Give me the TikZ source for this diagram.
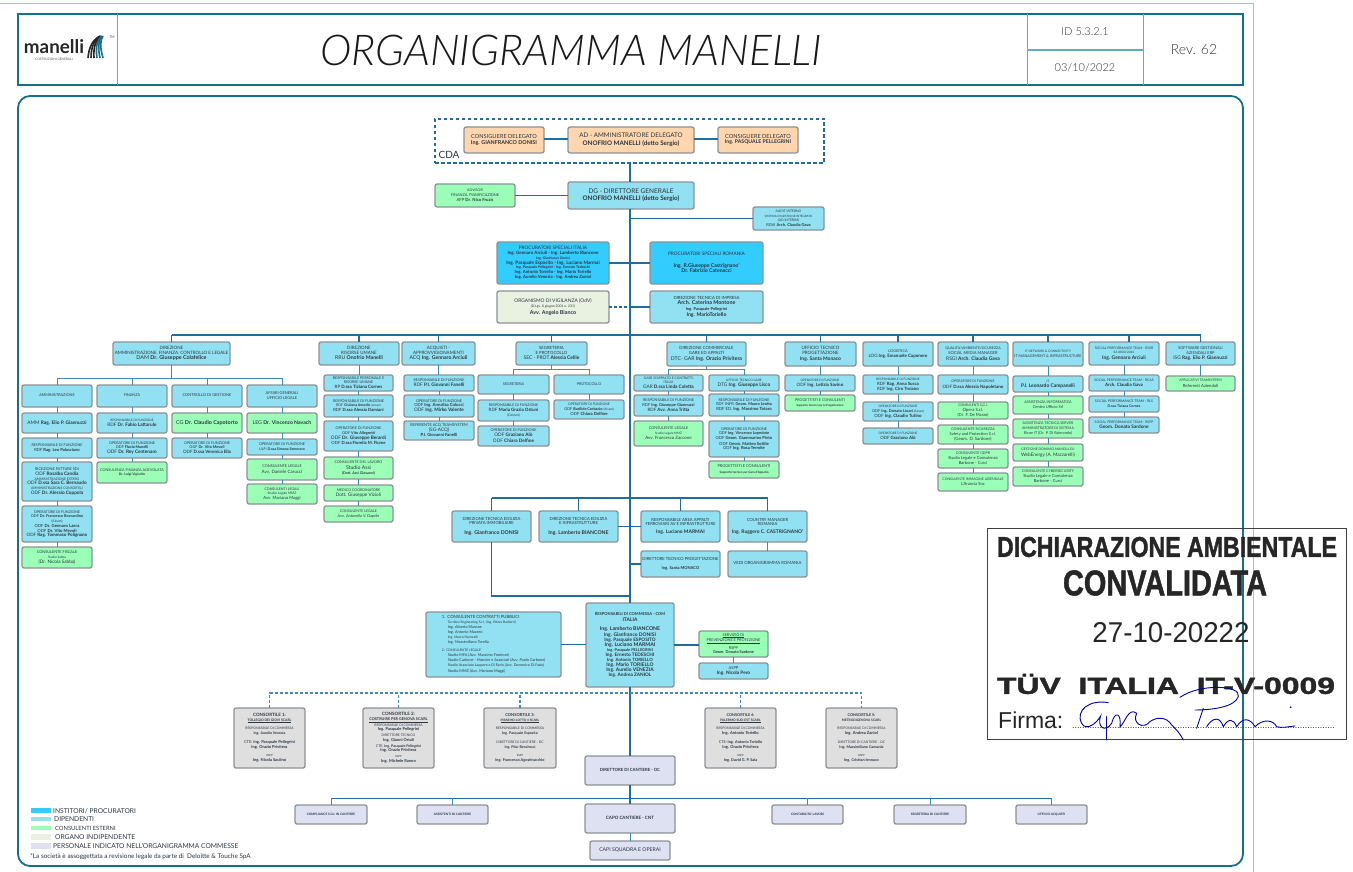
\documentclass[tikz,border=0pt]{standalone}
\usepackage{fontspec}
\usepackage{graphicx}
\setmainfont{Lato}
\newfontfamily\lightf{Lato Light}
\newfontfamily\stampf[BoldFeatures={FakeBold=1.5}]{Liberation Sans}
\usetikzlibrary{calc}
\definecolor{dteal}{HTML}{14708C}
\definecolor{lteal}{HTML}{8FCBD3}
\definecolor{mteal}{HTML}{5FAEBE}
\definecolor{cmain}{HTML}{1F6E9E}
\definecolor{csub}{HTML}{3F8DB5}
\definecolor{cdip}{HTML}{92E1F2}
\definecolor{cinst}{HTML}{33CCFF}
\definecolor{cext}{HTML}{9CFFB8}
\definecolor{cind}{HTML}{E9F2E0}
\definecolor{ccom}{HTML}{DDE1F1}
\definecolor{ccons}{HTML}{DFDFDF}
\definecolor{cora}{HTML}{FFD6AE}
\definecolor{cline}{HTML}{8C9296}
\definecolor{ctext}{HTML}{2B3640}
\newcommand{\sz}[1]{\pgfmathsetmacro\fsz{#1*1.12}\fontsize{\fsz}{\fsz}\selectfont}
\newcommand{\bb}[1]{\textbf{#1}}
\newcommand{\bx}[8][]{%
  \pgfmathsetmacro\bxw{#6-#4}\pgfmathsetmacro\bxh{#7-#5}%
  \node[bbox,#3,minimum width=\bxw pt,minimum height=\bxh pt,#1] (#2) at ({(#4+#6)/2},{(#5+#7)/2})
  {\smash{\makebox[0pt]{\raisebox{-1.3pt}{\begin{tabular}{@{}c@{}}#8\end{tabular}}}}};}
\newcommand{\chain}[1]{\foreach \p/\q in {#1}{\draw[cn] (\p.south) -- (\p.south |- \q.north);}}
\tikzset{
  bbox/.style={draw=cline,line width=1.3pt,rounded corners=2pt,inner sep=0pt,outer sep=0pt,text=ctext,
    font=\fontsize{3.8}{4.7}\selectfont},
  dip/.style={fill=cdip},
  inst/.style={fill=cinst},
  ext/.style={fill=cext},
  ind/.style={fill=cind},
  com/.style={fill=ccom},
  cons/.style={fill=ccons},
  ora/.style={fill=cora},
  cmn/.style={draw=cmain,line width=1.5pt},
  cn/.style={draw=csub,line width=1pt},
  cdsh/.style={draw=csub,line width=1.2pt,dash pattern=on 3pt off 2pt},
  sig/.style={draw=blue!65!black,line width=.9pt,line cap=round},
  leg/.style={inner sep=0pt,anchor=west,text=ctext,font=\fontsize{6.7}{7}\selectfont},
  swatch/.style={inner sep=0pt,minimum width=20pt},
  stamptxt/.style={inner sep=0pt,text=black!85,font=\stampf},
}
\begin{document}
\begin{tikzpicture}[x=1pt,y=-1pt]
\useasboundingbox (0,0) rectangle (1353,872);
\fill[white] (0,0) rectangle (1353,872);
% outer light frame
\draw[lteal,line width=1pt] (0,4) -- (1253,4) -- (1253,872);
% header
\draw[dteal,line width=2pt] (18,14) rectangle (1243,85);
\draw[mteal,line width=.7pt] (117,14) -- (117,85) (1027,14) -- (1027,85) (1143,14) -- (1143,85);
\draw[mteal,line width=1.2pt] (1027,50) -- (1143,50);
\draw[dteal,line width=1.8pt,rounded corners=12pt] (18,96) rectangle (1243,866);
% logo
\node[inner sep=0pt,font=\fontsize{18.8}{20}\selectfont\bfseries,text=black!85] (logo) at (54,47) {manelli};
\node[inner sep=0pt,font=\fontsize{3.2}{4}\selectfont,text=black!70] (logosub) at (54,59) {COSTRUZIONI GENERALI};
\node[inner sep=0pt,font=\fontsize{3.5}{4}\selectfont,text=black!70] (logotm) at (112,37) {TM};
\foreach \i/\c in {0/black!85,3/black!85,6/black!85,9/dteal,12/dteal,15/dteal}{
  \draw[\c,line width=1.6pt] ({88+\i},58) .. controls ({89+\i*.7},46) and ({93+\i*.5},40) .. ({100+\i*.2},36);}
\node[inner sep=0pt,font=\fontsize{42.5}{46}\selectfont\lightf\itshape,text=black!90] (title) at (571,50) {ORGANIGRAMMA MANELLI};
\node[inner sep=0pt,font=\fontsize{11}{13}\selectfont\lightf,text=black!80] (idt) at (1085,32) {ID 5.3.2.1};
\node[inner sep=0pt,font=\fontsize{11}{13}\selectfont\lightf,text=black!80] (dat) at (1085,68) {03/10/2022};
\node[inner sep=0pt,font=\fontsize{14}{16}\selectfont\lightf,text=black!80] (rev) at (1194,50) {Rev. 62};
% CDA
\node[draw=cmain,line width=1.4pt,dash pattern=on 3.5pt off 2.5pt,inner sep=0pt,minimum width=389pt,minimum height=44pt] (cda) at (629.5,141) {};
\node[inner sep=0pt,font=\fontsize{10}{11}\selectfont,text=ctext] (cdal) at (449,155) {CDA};
\bx{cdl}{ora}{464}{127}{544}{153}{\sz{5}CONSIGLIERE DELEGATO\\\sz{4.8}\bb{Ing. GIANFRANCO DONISI}}
\bx{ad}{ora}{568}{127}{694}{153}{\sz{5.6}AD - AMMINISTRATORE DELEGATO\\[1pt]\sz{5.6}\bb{ONOFRIO MANELLI (detto Sergio)}}
\bx{cdr}{ora}{718}{127}{798}{153}{\sz{5}CONSIGLIERE DELEGATO\\\sz{4.6}\bb{Ing. PASQUALE PELLEGRINI}}
\bx{dg}{dip}{568}{182}{694}{209}{\sz{5.8}DG - DIRETTORE GENERALE\\[1pt]\sz{5.6}\bb{ONOFRIO MANELLI (detto Sergio)}}
\bx{adv}{ext}{435}{184}{515}{207}{\sz{3.2}ADVISOR\\\sz{3.4}FINANZA, PIANIFICAZIONE\\\sz{3.8}AFP \bb{Dr. Nico Fruzis}}
\bx{aud}{dip}{753}{207}{824}{230}{\sz{3}AUDIT INTERNO\\\sz{2.6}SISTEMA DI GESTIONE INTEGRATO\\\sz{3}(AD INTERIM)\\\sz{3.6}RGVI \bb{Arch. Claudia Gava}}
\bx{pit}{inst}{497}{242}{609}{284}{\sz{4.2}PROCURATORI SPECIALI ITALIA\\\sz{4}\bb{Ing. Gennaro Arciuli - Ing. Lamberto Biancone}\\\sz{3}\bb{Ing. Gianfranco Donisi}\\\sz{4.2}\bb{Ing. Pasquale Esposito - Ing. Luciano Marmai}\\\sz{3.2}\bb{Ing. Pasquale Pellegrini - Ing. Ernesto Tedeschi}\\\sz{3.8}\bb{Ing. Antonio Toriello - Ing. Mario Toriello}\\\sz{3.8}\bb{Ing. Aurelio Venezia - Ing. Andrea Zaniol}}
\bx{pro}{inst}{650}{242}{763}{284}{\sz{4.2}PROCURATORI SPECIALI ROMANIA\\[6pt]\sz{4.6}\bb{Ing. R.Giuseppe Castrignano'}\\\sz{4.6}\bb{Dr. Fabrizio Catenacci}}
\bx{odv}{ind}{497}{291}{609}{323}{\sz{4.4}ORGANISMO DI VIGILANZA (OdV)\\[1pt]\sz{3}(D.Lgs. 8 giugno 2001 n. 231)\\[1pt]\sz{4.8}\bb{Avv. Angelo Bianco}}
\bx{dti}{dip}{650}{291}{763}{323}{\sz{3.8}DIREZIONE TECNICA DI IMPRESA\\\sz{4.8}\bb{Arch. Caterina Montone}\\[1pt]\sz{3.6}\bb{Ing. Pasquale Pellegrini}\\[1pt]\sz{4.6}\bb{Ing. MarioToriello}}
% direzioni
\bx{dam}{dip}{113}{342}{230}{365}{\sz{4}DIREZIONE\\\sz{4}AMMINISTRAZIONE, FINANZA, CONTROLLO E LEGALE\\\sz{4.8}DAM \bb{Dr. Giuseppe Colafelice}}
\bx{am}{dip}{22}{385}{92}{407}{\sz{3.4}AMMINISTRAZIONE}
\bx{fi}{dip}{97}{385}{167}{407}{\sz{3.4}FINANZA}
\bx{cg}{dip}{172}{385}{242}{407}{\sz{3.5}CONTROLLO DI GESTIONE}
\bx{af}{dip}{247}{385}{317}{407}{\sz{3.5}AFFARI GENERALI\\\sz{3.5}UFFICIO LEGALE}
\bx{am1}{dip}{22}{413}{92}{433}{\sz{4.3}AMM \bb{Rag. Elio P. Giannuzzi}}
\bx{am2}{dip}{22}{438}{92}{458}{\sz{3.3}RESPONSABILE DI FUNZIONE\\\sz{3.7}RDF \bb{Rag. Leo Palasciano}}
\bx{am3}{dip}{22}{462}{92}{501}{\sz{3.4}RICEZIONE FATTURE SDI\\\sz{4.2}ODF \bb{Rosalba Candia}\\\sz{3}AMMINISTRAZIONE ESTERO\\\sz{4.2}ODF \bb{D.ssa Sara C. Bernaudo}\\\sz{3}AMMINISTRAZIONE CONSORTILI\\\sz{4.2}ODF \bb{Dr. Alessio Coppola}}
\bx{am4}{dip}{22}{506}{92}{542}{\sz{3.3}OPERATORE DI FUNZIONE\\\sz{3.4}ODF \bb{Dr. Francesco Boccardino}\\\sz{3}(Alcam)\\\sz{3.8}ODF \bb{Dr. Gennaro Laera}\\\sz{3.8}ODF \bb{Dr. Vito Mevoli}\\\sz{4}ODF \bb{Rag. Tommaso Polignano}}
\bx{am5}{ext}{22}{547}{92}{568}{\sz{3.4}CONSULENTE FISCALE\\\sz{2.8}Studio Sabba\\[.5pt]\sz{4.2}(Dr. Nicola Sabba)}
\bx{fi1}{dip}{97}{413}{167}{433}{\sz{2.8}RESPONSABILE DI FUNZIONE\\\sz{4.2}RDF \bb{Dr. Fabio Lattarulo}}
\bx{fi2}{dip}{97}{438}{167}{458}{\sz{3.3}OPERATORE DI FUNZIONE\\\sz{3.4}ODF \bb{Flavia Manelli}\\\sz{4.2}ODF \bb{Dr. Rey Centenaro}}
\bx{fi3}{ext}{97}{462}{167}{483}{\sz{3.3}CONSULENZA FINANZA AGEVOLATA\\\sz{3}\bb{Dr. Luigi Vigiarito}}
\bx{cg1}{ext}{172}{413}{242}{433}{\sz{4.8}CG \bb{Dr. Claudio Capotorto}}
\bx{cg2}{dip}{172}{438}{242}{458}{\sz{3.3}OPERATORE DI FUNZIONE\\\sz{3.4}ODF \bb{Dr. Vito Mevoli}\\\sz{4}ODF \bb{D.ssa Veronica Ella}}
\bx{af1}{ext}{247}{413}{317}{433}{\sz{4.6}LEG \bb{Dr. Vincenzo Navach}}
\bx{af2}{dip}{247}{439}{317}{455}{\sz{3.3}OPERATORE DI FUNZIONE\\\sz{3.2}ULP: \bb{D.ssa Simona Semeraro}}
\bx{af3}{ext}{247}{459}{317}{480}{\sz{3.4}CONSULENTE LEGALE\\[1pt]\sz{4}Avv. Daniele Carucci}
\bx{af4}{ext}{247}{484}{317}{504}{\sz{3.2}CONSULENTI LEGALI\\\sz{3}Studio Legale MMZ\\\sz{3.8}Avv. Mariano Maggi}
\bx{rru}{dip}{319}{342}{399}{365}{\sz{4}DIREZIONE\\\sz{4}RISORSE UMANE\\\sz{4.6}RRU \bb{Onofrio Manelli}}
\bx{rr1}{dip}{324}{375}{393}{391}{\sz{3.3}RESPONSABILE PERSONALE E\\\sz{3.3}RISORSE UMANE\\\sz{4}RP \bb{D.ssa Tiziana Cornes}}
\bx{rr2}{dip}{324}{395}{393}{417}{\sz{3.3}RESPONSABILE DI FUNZIONE\\\sz{3.2}RDF \bb{Giuliana Amodio} \sz{2.6}(Alcam)\\\sz{3.8}RDF \bb{D.ssa Alessia Damiani}}
\bx{rr3}{dip}{324}{421}{393}{451}{\sz{3.3}OPERATORE DI FUNZIONE\\\sz{3.4}ODF \bb{Vito Allegretti}\\\sz{4.2}ODF \bb{Dr. Giuseppe Berardi}\\\sz{3.8}ODF \bb{D.ssa Fiorella M. Fiume}}
\bx{rr4}{ext}{324}{457}{393}{479}{\sz{3.3}CONSULENTE DEL LAVORO\\[1pt]\sz{4.6}Studio Assi\\[1pt]\sz{3.2}\bb{(Dott. Assi Giovanni)}}
\bx{rr5}{ext}{324}{485}{393}{501}{\sz{3.2}MEDICO COORDINATORE\\[.5pt]\sz{4.2}Dott. Giuseppe Vizioli}
\bx{rr6}{ext}{324}{506}{393}{522}{\sz{3.2}CONSULENTE LEGALE\\[.5pt]\sz{3.4}Avv. Antonella V. Daprile}
\bx{acq}{dip}{402}{342}{475}{365}{\sz{4}ACQUISTI -\\\sz{4}APPROVVIGIONAMENTI\\\sz{4.6}ACQ \bb{Ing. Gennaro Arciuli}}
\bx{ac1}{dip}{404}{375}{474}{391}{\sz{3.3}RESPONSABILE DI FUNZIONE\\[.5pt]\sz{4.2}RDF \bb{P.I. Giovanni Fanelli}}
\bx{ac2}{dip}{404}{395}{474}{417}{\sz{3.3}OPERATORE DI FUNZIONE\\\sz{3.8}ODF \bb{Ing. Annalisa Colucci}\\\sz{4.2}ODF \bb{Ing. Mirko Valente}}
\bx{ac3}{dip}{404}{421}{474}{440}{\sz{3.5}REFERENTE ACQ TEAMSYSTEM\\\sz{4.2}(SG-ACQ)\\\sz{3.8}\bb{P.I. Giovanni Fanelli}}
\bx{sec}{dip}{516}{342}{587}{365}{\sz{3.8}SEGRETERIA\\\sz{3.8}E PROTOCOLLO\\[.5pt]\sz{4.4}SEC - PROT \bb{Alessia Cellie}}
\bx{se}{dip}{478}{375}{549}{394}{\sz{3.3}SEGRETERIA}
\bx{pr}{dip}{554}{375}{624}{394}{\sz{3.3}PROTOCOLLO}
\bx{se1}{dip}{478}{400}{549}{421}{\sz{3.2}RESPONSABILE DI FUNZIONE\\\sz{4}RDF \bb{Maria Grazia Ostuni}\\[1pt]\sz{3}(Cornen)}
\bx{se2}{dip}{478}{426}{549}{446}{\sz{3.3}OPERATORE DI FUNZIONE\\\sz{4.2}ODF \bb{Graziano Alò}\\[1pt]\sz{4.2}ODF \bb{Chiara Delfine}}
\bx{pr1}{dip}{554}{400}{624}{419}{\sz{3}OPERATORE DI FUNZIONE\\[.5pt]\sz{3.4}ODF \bb{Basilide Corbacio} \sz{2.8}(Alcam)\\[1pt]\sz{3.8}ODF \bb{Chiara Delfine}}
\bx{dtc}{dip}{667}{342}{746}{366}{\sz{3.8}DIREZIONE COMMERCIALE\\\sz{3.8}GARE ED APPALTI\\[.5pt]\sz{4.6}DTC- GAR \bb{Ing. Orazio Privitera}}
\bx{ga}{dip}{634}{375}{703}{391}{\sz{3}GARE D'APPALTO E CONTRATTI\\\sz{3}ITALIA\\\sz{4.2}GAR \bb{D.ssa Linda Coletta}}
\bx{ga1}{dip}{634}{395}{703}{416}{\sz{3.3}RESPONSABILE DI FUNZIONE\\\sz{3.6}RDF \bb{Ing. Giuseppe Giannuzzi}\\\sz{4}RDF \bb{Avv. Anna Tritta}}
\bx{ga2}{ext}{634}{421}{703}{446}{\sz{3.4}CONSULENTE LEGALE\\\sz{2.8}Studio Legale MMZ\\\sz{3.9}Avv. Francesco Zaccone}
\bx{ut}{dip}{709}{375}{779}{391}{\sz{2.8}UFFICIO TECNICO GARE\\[.5pt]\sz{4.3}DTG \bb{Ing. Giuseppe Lisco}}
\bx{ut1}{dip}{709}{394}{779}{416}{\sz{3.3}RESPONSABILE DI FUNZIONE\\\sz{3.5}RDF INFR. \bb{Geom. Mauro Leotta}\\\sz{3.8}RDF ED. \bb{Ing. Massimo Totaro}}
\bx{ut2}{dip}{709}{421}{779}{457}{\sz{3.3}OPERATORE DI FUNZIONE\\\sz{3.5}ODF \bb{Ing. Vincenzo Lopedote}\\\sz{3.7}ODF \bb{Geom. Giammarino Pinto}\\[1pt]\sz{3.7}ODF \bb{Geom. Matteo Sottile}\\\sz{3.7}ODF \bb{Ing. Rosa Termite}}
\bx{ut3}{ext}{709}{461}{779}{478}{\sz{3.5}PROGETTISTI E CONSULENTI\\[.5pt]\sz{2.7}\bb{Supporto tecnico per Gare d'Appalto}}
\bx{utp}{dip}{785}{342}{856}{366}{\sz{4}UFFICIO TECNICO\\\sz{4}PROGETTAZIONE\\[.5pt]\sz{4.4}\bb{Ing. Santa Monaco}}
\bx{tp1}{dip}{785}{375}{855}{391}{\sz{2.8}OPERATORE DI FUNZIONE\\[.5pt]\sz{4}ODF \bb{Ing. Letizia Savino}}
\bx{tp2}{ext}{785}{395}{855}{411}{\sz{3.3}PROGETTISTI E CONSULENTI\\[.5pt]\sz{2.5}\bb{Supporto tecnico per la Progettazione}}
\bx{log}{dip}{863}{342}{933}{366}{\sz{3.4}LOGISTICA\\[1pt]\sz{4}LOG \bb{Ing. Emanuele Caponero}}
\bx{lo1}{dip}{863}{375}{933}{394}{\sz{2.8}RESPONSABILE DI FUNZIONE\\[.5pt]\sz{3.9}RDF \bb{Rag. Anna Susca}\\[.5pt]\sz{3.9}RDF \bb{Ing. Ciro Troiano}}
\bx{lo2}{dip}{863}{402}{933}{421}{\sz{2.8}OPERATORE DI FUNZIONE\\[.5pt]\sz{3.5}ODF \bb{Ing. Donato Liuzzi} \sz{2.8}(Alcam)\\[.5pt]\sz{3.9}ODF \bb{Ing. Claudio Tutino}}
\bx{lo3}{dip}{863}{428}{933}{444}{\sz{2.8}OPERATORE DI FUNZIONE\\[.5pt]\sz{3.9}ODF \bb{Graziano Alò}}
\bx{qss}{dip}{938}{342}{1008}{366}{\sz{3.2}QUALITA'/AMBIENTE/SICUREZZA\\\sz{3.6}SOCIAL MEDIA MANAGER\\[.5pt]\sz{4.4}RSGI \bb{Arch. Claudia Gava}}
\bx{qs1}{dip}{938}{375}{1008}{394}{\sz{3.1}OPERATORE DI FUNZIONE\\[.5pt]\sz{4}ODF \bb{D.ssa Alessia Napoletano}}
\bx{qs2}{ext}{938}{402}{1008}{419}{\sz{3}CONSULENTI S.G.I.\\\sz{3.9}Opera S.r.l.\\[.5pt]\sz{3.7}(Dr. F. De Marzo)}
\bx{qs3}{ext}{938}{425}{1008}{444}{\sz{3.2}CONSULENTE SICUREZZA\\[.5pt]\sz{3.6}Safety and Protection S.r.l.\\[.5pt]\sz{3.9}(Geom. D. Sardone)}
\bx{qs4}{ext}{938}{449}{1008}{468}{\sz{3.2}CONSULENTE GDPR\\\sz{3.7}Studio Legale e Consulenza\\\sz{3.7}Barbone - Curci}
\bx{qs5}{ext}{938}{473}{1008}{491}{\sz{3.1}CONSULENTE IMMAGINE AZIENDALE\\[1pt]\sz{3.7}L'Arancia Snc}
\bx{itm}{dip}{1013}{342}{1083}{366}{\sz{2.8}IT NETWORK \& CONNECTIVITY\\[.5pt]\sz{3.3}IT MANAGEMENT \& INFRASTRUCTURE}
\bx{it1}{dip}{1013}{376}{1083}{392}{\sz{2.8}IT\\[.5pt]\sz{4.4}\bb{P.I. Leonardo Campanelli}}
\bx{it2}{ext}{1013}{396}{1083}{414}{\sz{3.3}ASSISTENZA INFORMATICA\\[.5pt]\sz{3.6}Centro Ufficio Srl}
\bx{it3}{ext}{1013}{419}{1083}{438}{\sz{3.2}ASSISTENZA TECNICA SERVER\\\sz{3.2}AMMINISTRATORE DI SISTEMA\\\sz{3.4}Ricoe IT (Dr. P. Di Raimondo)}
\bx{it4}{ext}{1013}{444}{1083}{461}{\sz{3}GESTIONE DOMINIO MANELLI.EU\\[.5pt]\sz{4.2}WebEnergy (A. Mazzarelli)}
\bx{it5}{ext}{1013}{467}{1083}{486}{\sz{3.2}CONSULENTE CYBERSECURITY\\\sz{3.7}Studio Legale e Consulenza\\\sz{3.7}Barbone - Curci}
\bx{spt}{dip}{1089}{342}{1159}{365}{\sz{3}SOCIAL PERFORMANCE TEAM - RDIR\\\sz{2.8}SA 8000/2014\\[1pt]\sz{4.4}\bb{Ing. Gennaro Arciuli}}
\bx{sp1}{dip}{1089}{375}{1159}{391}{\sz{3}SOCIAL PERFORMANCE TEAM - RGAS\\[.5pt]\sz{4}\bb{Arch. Claudia Gava}}
\bx{sp2}{dip}{1089}{396}{1159}{412}{\sz{3.1}SOCIAL PERFORMANCE TEAM - RLS\\[.5pt]\sz{3.2}\bb{D.ssa Tiziana Cornes}}
\bx{sp3}{dip}{1089}{417}{1159}{433}{\sz{3}SOCIAL PERFORMANCE TEAM - RSPP\\[.5pt]\sz{4.2}\bb{Geom. Donato Sardone}}
\bx{isg}{dip}{1166}{342}{1235}{365}{\sz{3.5}SOFTWARE GESTIONALI\\\sz{3.5}AZIENDALI ERP\\[.5pt]\sz{4.3}ISG \bb{Rag. Elio P. Giannuzzi}}
\bx{is1}{ext}{1166}{376}{1235}{391}{\sz{3}APPLICATIVI TEAMSYSTEM\\[.5pt]\sz{3.8}Referenti Aziendali}
% bottom directions
\bx{dt1}{dip}{452}{511}{531}{542}{\sz{3.7}DIREZIONE TECNICA EDILIZIA\\\sz{3.7}PRIVATA IMMOBILIARE\\[5pt]\sz{4.6}\bb{Ing. Gianfranco DONISI}}
\bx{dt2}{dip}{539}{511}{618}{542}{\sz{3.7}DIREZIONE TECNICA EDILIZIA\\\sz{3.7}E INFRASTRUTTURE\\[5pt]\sz{4.6}\bb{Ing. Lamberto BIANCONE}}
\bx{raa}{dip}{641}{511}{720}{542}{\sz{3.7}RESPONSABILE AREA APPALTI\\\sz{3.7}FERROVIARI AV E INFRASTRUTTURE\\[3pt]\sz{4.4}\bb{Ing. Luciano MARMAI}}
\bx{cma}{dip}{728}{511}{807}{542}{\sz{3.7}COUNTRY MANAGER\\\sz{3.7}ROMANIA\\[3pt]\sz{4.4}\bb{Ing. Ruggero C. CASTRIGNANO'}}
\bx{dtp}{dip}{641}{551}{720}{577}{\sz{3.7}DIRETTORE TECNICO PROGETTAZIONE\\[5pt]\sz{3.6}\bb{Ing. Santa MONACO}}
\bx{ved}{dip}{728}{551}{807}{577}{\sz{3.8}VEDI ORGANIGRAMMA ROMANIA}
\bx{rc}{dip}{586}{603}{674}{687}{\sz{3.6}\bb{RESPONSABILI DI COMMESSA - COM}\\[.8pt]\sz{4.4}\bb{ITALIA}\\[4pt]\sz{4.6}\bb{Ing. Lamberto BIANCONE}\\[.6pt]\sz{4.4}\bb{Ing. Gianfranco DONISI}\\[.2pt]\sz{4.2}\bb{Ing. Pasquale ESPOSITO}\\[.2pt]\sz{4.6}\bb{Ing. Luciano MARMAI}\\\sz{3.5}\bb{Ing. Pasquale PELLEGRINI}\\\sz{4.2}\bb{Ing. Ernesto TEDESCHI}\\\sz{3.9}\bb{Ing. Antonio TORIELLO}\\\sz{4.4}\bb{Ing. Mario TORIELLO}\\[.2pt]\sz{4.4}\bb{Ing. Aurelio VENEZIA}\\\sz{4.2}\bb{Ing. Andrea ZANIOL}}
\bx{co}{dip}{426}{612}{561}{677}{\begin{tabular}{@{}l@{}}\sz{3.8}1.\ \ CONSULENTE CONTRATTI PUBBLICI\\\hspace{6pt}\sz{3}Tecnilex Engineering S.r.l. (Ing. Ettore Barbieri)\\\hspace{6pt}\sz{3.4}Ing. Alberto Masone\\[.8pt]\hspace{6pt}\sz{3.4}Ing. Antonio Mazzeo\\\hspace{6pt}\sz{3}Ing. Marco Pastorelli\\\hspace{6pt}\sz{3.4}Ing. Massimiliano Torella\\[4pt]\sz{3}2.\ \ CONSULENTE LEGALE\\\hspace{6pt}\sz{3.4}Studio MFA (Avv. Massimo Frontoni)\\[.8pt]\hspace{6pt}\sz{3.4}Studio Carbone - Mancini e Associati (Avv. Paolo Carbone)\\\hspace{6pt}\sz{3.2}Studio Associato Lappore e Di Fazio (Avv. Domenico Di Fazio)\\[.8pt]\hspace{6pt}\sz{3.4}Studio MMZ (Avv. Mariano Maggi)\end{tabular}}
\bx{sv}{ext}{699}{631}{768}{657}{\sz{3.4}\underline{SERVIZIO DI}\\\sz{3.4}\underline{PREVENZIONE E PROTEZIONE}\\[3pt]\sz{3.4}RSPP\\\sz{3.5}\bb{Geom. Donato Sardone}}
\bx{as}{dip}{699}{663}{768}{679}{\sz{3.6}ASPP\\[.5pt]\sz{4.2}\bb{Ing. Nicola Pero}}
% consortili
\bx{c1}{cons}{234}{708}{305}{768}{\sz{4}\bb{CONSORTILE 1:}\\\sz{3}\underline{\bb{TOLLEGIO DEI GIOVI SCARL}}\\[4pt]\sz{3}RESPONSABILE DI COMMESSA\\\sz{3.2}\bb{Ing. Aurelio Venezia}\\[4pt]\sz{3.6}CTE: \bb{Ing. Pasquale Pellegrini}\\\sz{3.6}\bb{Ing. Orazio Privitera}\\[4pt]\sz{2.4}RSPP\\\sz{3.6}\bb{Ing. Nicola Saulino}}
\bx{c2}{cons}{363}{708}{434}{768}{\sz{4}\bb{CONSORTILE 2:}\\\sz{3.4}\underline{\bb{COSTRUIRE PER GENOVA SCARL}}\\[1pt]\sz{3}RESPONSABILE DI COMMESSA\\\sz{3.6}\bb{Ing. Pasquale Pellegrini}\\[1pt]\sz{3}DIRETTORE TECNICO\\\sz{3.6}\bb{Ing. Gianni Ortali}\\[1pt]\sz{3.2}CTE: \bb{Ing. Pasquale Pellegrini}\\\sz{3.6}\bb{Ing. Orazio Privitera}\\[1pt]\sz{2.4}RSPP\\\sz{3.6}\bb{Ing. Michele Ranno}}
\bx{c3}{cons}{484}{708}{556}{768}{\sz{3.6}\bb{CONSORTILE 3:}\\\sz{2.8}\underline{\bb{PIRAEMO-LOTTO 4 SCARL}}\\[4pt]\sz{3}RESPONSABILE DI COMMESSA\\\sz{3.2}\bb{Ing. Pasquale Esposito}\\[4pt]\sz{3}DIRETTORE DI CANTIERE - DC\\\sz{3.2}\bb{Ing. Pilar Benchessi}\\[4pt]\sz{2.4}RSPP\\\sz{3.4}\bb{Ing. Francesco Agostinacchio}}
\bx{c4}{cons}{705}{708}{776}{768}{\sz{3.4}\bb{CONSORTILE 4:}\\\sz{2.9}\underline{\bb{PALERMO SUD-EST SCARL}}\\[4pt]\sz{3}RESPONSABILE DI COMMESSA\\\sz{3.6}\bb{Ing. Antonio Toriello}\\[4pt]\sz{3.4}CTE: \bb{Ing. Antonio Toriello}\\\sz{3.6}\bb{Ing. Orazio Privitera}\\[4pt]\sz{2.4}RSPP\\\sz{3.4}\bb{Ing. David G. P. Sala}}
\bx{c5}{cons}{826}{708}{897}{768}{\sz{3.4}\bb{CONSORTILE 5:}\\\sz{2.9}\bb{METRODIGENOVA SCARL}\\[4pt]\sz{3}RESPONSABILE DI COMMESSA\\\sz{3.6}\bb{Ing. Andrea Zaniol}\\[4pt]\sz{3}DIRETTORE DI CANTIERE - DC\\\sz{3.3}\bb{Ing. Massimiliano Camarda}\\[4pt]\sz{2.4}RSPP\\\sz{3.4}\bb{Ing. Cristian Iennaco}}
\bx{dc}{com}{585}{756}{675}{785}{\sz{3.8}\bb{DIRETTORE DI CANTIERE - DC}}
\bx{b1}{com}{295}{805}{367}{824}{\sz{2.8}\bb{COMPLIANCE S.G.I. IN CANTIERE}}
\bx{b2}{com}{417}{805}{488}{824}{\sz{2.8}\bb{ASSISTENTI DI CANTIERE}}
\bx{cap}{com}{585}{804}{675}{833}{\sz{4}\bb{CAPO CANTIERE - CNT}}
\bx{b4}{com}{772}{805}{843}{824}{\sz{2.8}\bb{CONTABILITA' LAVORI}}
\bx{b5}{com}{894}{805}{966}{824}{\sz{2.8}\bb{SEGRETERIA DI CANTIERE}}
\bx{b6}{com}{1016}{805}{1087}{824}{\sz{2.8}\bb{UFFICIO ACQUISTI}}
\bx{squ}{com}{590}{841}{670}{860}{\sz{4.6}CAPI SQUADRA E OPERAI}
% connectors
\coordinate (tr) at (630,335);
\coordinate (sb) at (630,798);
\coordinate (hd) at (630,693);
\draw[cmn] (cdl.east |- 0,139) -- (ad.west |- 0,139);
\draw[cmn] (ad.east |- 0,139) -- (cdr.west |- 0,139);
\draw[cmn] (tr |- cda.south) -- (tr |- dg.north);
\draw[cmn] (adv.east) -- (dg.west);
\draw[cmn] (tr |- dg.south) -- (tr |- rc.north);
\draw[cmn] (aud.west) -- (aud.west -| tr);
\draw[cmn] (pit.east) -- (pro.west);
\draw[cmn,dash pattern=on 3pt off 2pt] (odv.east) -- (odv.east -| tr);
\draw[cmn] (dti.west) -- (dti.west -| tr);
\draw[cmn] (dam.north |- tr) -- (isg.north |- tr);
\foreach \n in {dam,rru,acq,sec,dtc,utp,log,qss,itm,isg}{\draw[cmn] (\n.north) -- (\n.north |- tr);}
\draw[cmn] ($(spt.north)+(5,0)$) -- ($(spt.north |- tr)+(5,0)$);
\coordinate (ba) at (171,378);
\draw[cn] (dam.south) -- (dam.south |- ba);
\draw[cn] (am.north |- ba) -- (af.north |- ba);
\foreach \n in {am,fi,cg,af}{\draw[cn] (\n.north) -- (\n.north |- ba);}
\chain{am/am1,am1/am2,am2/am3,am3/am4,am4/am5,fi/fi1,fi1/fi2,fi2/fi3,cg/cg1,cg1/cg2,af/af1,af1/af2,af2/af3,af3/af4}
\chain{rru/rr1,rr1/rr2,rr2/rr3,rr3/rr4,rr4/rr5,rr5/rr6,acq/ac1,ac1/ac2,ac2/ac3}
\coordinate (bs) at (552,369);
\draw[cn] (sec.south) -- (sec.south |- bs);
\draw[cn] (se.north |- bs) -- (pr.north |- bs);
\foreach \n in {se,pr}{\draw[cn] (\n.north) -- (\n.north |- bs);}
\chain{se/se1,se1/se2,pr/pr1}
\coordinate (bd) at (706,369);
\draw[cn] (dtc.south) -- (dtc.south |- bd);
\draw[cn] (ga.north |- bd) -- (ut.north |- bd);
\foreach \n in {ga,ut}{\draw[cn] (\n.north) -- (\n.north |- bd);}
\chain{ga/ga1,ga1/ga2,ut/ut1,ut1/ut2,ut2/ut3,utp/tp1,tp1/tp2,log/lo1,lo1/lo2,lo2/lo3}
\chain{qss/qs1,qs1/qs2,qs2/qs3,qs3/qs4,qs4/qs5,itm/it1,it1/it2,it2/it3,it3/it4,it4/it5}
\chain{spt/sp1,sp1/sp2,sp2/sp3,isg/is1,cma/ved,sv/as,cap/squ}
\coordinate (bt) at (630,498);
\draw[cmn] (dt1.north |- bt) -- (cma.north |- bt);
\foreach \n in {dt1,dt2,raa,cma}{\draw[cmn] (\n.north) -- (\n.north |- bt);}
\draw[cmn] (dt2.east) -- (raa.west);
\draw[cmn] (dtp.west) -- (dtp.west -| tr);
\coordinate (bu) at (630,596);
\draw[cmn] (dt1.south) -- (dt1.south |- bu) -- (bu);
\draw[cmn] (co.east) -- (co.east -| rc.west);
\draw[cmn] (sv.west |- 0,645) -- (rc.east |- 0,645);
\draw[cmn] (tr |- rc.south) -- (tr |- dc.north);
\draw[cdsh] (c1.north) -- (c1.north |- hd) -- (c5.north |- hd) -- (c5.north);
\foreach \n in {c2,c3,c4}{\draw[cdsh] (\n.north) -- (\n.north |- hd);}
\draw[cmn] (dc.south) -- (cap.north);
\draw[cn,cmain] (b1.north |- sb) -- (b6.north |- sb);
\foreach \n in {b1,b2,b4,b5,b6}{\draw[cn] (\n.north) -- (\n.north |- sb);}
% legend
\node[swatch,fill=cinst,minimum height=5pt] (l1) at (41,810.5) {};
\node[swatch,fill=cdip,minimum height=4.5pt] (l2) at (41,819) {};
\node[swatch,fill=cext,minimum height=4.5pt] (l3) at (41,828) {};
\node[swatch,fill=cind,minimum height=6pt] (l4) at (41,837) {};
\node[swatch,fill=ccom,minimum height=6pt] (l5) at (41,846) {};
\node[leg] (t1) at (53,811) {INSTITORI/ PROCURATORI};
\node[leg] (t2) at (54,819.5) {DIPENDENTI};
\node[leg,font=\fontsize{5.8}{6}\selectfont] (t3) at (55,828) {CONSULENTI ESTERNI};
\node[leg] (t4) at (55,837) {ORGANO INDIPENDENTE};
\node[leg] (t5) at (53,846) {PERSONALE INDICATO NELL'ORGANIGRAMMA COMMESSE};
\node[leg,font=\fontsize{6.4}{7}\selectfont] (t6) at (30,857) {*La società è assoggettata a revisione legale da parte di\ \ Deloitte \& Touche SpA};
% stamp
\node[draw=black!75,line width=.8pt,inner sep=0pt,minimum width=359pt,minimum height=211pt] (stampb) at (1166.5,633.5) {};
\node[stamptxt] (st1) at (1167,547) {\resizebox{340pt}{20pt}{\bfseries DICHIARAZIONE  AMBIENTALE}};
\node[stamptxt] (st2) at (1165,583) {\resizebox{204pt}{25pt}{\bfseries CONVALIDATA}};
\node[stamptxt] (st3) at (1171,633) {\resizebox{157pt}{20pt}{27-10-20222}};
\node[stamptxt] (st4) at (1166,684) {\resizebox{338pt}{20pt}{\bfseries TÜV\ \ ITALIA\ \ IT-V-0009}};
\node[stamptxt,anchor=base west,font=\stampf\fontsize{23}{25}\selectfont] (st5) at (998,728) {Firma:};
\node[stamptxt,anchor=base west,font=\stampf\fontsize{9}{10}\selectfont] (st6) at (1072,728) {.........................................................................................................};
\begin{scope}[shift={(980,510)},x=.3333pt,y=-.3333pt]
\draw[sig] (385,578) .. controls (330,568) and (285,600) .. (305,640) .. controls (318,665) and (350,640) .. (362,618) .. controls (350,650) and (375,670) .. (395,640) .. controls (405,600) and (425,610) .. (420,650) .. controls (435,640) and (445,590) .. (470,610) .. controls (455,640) and (490,660) .. (510,635) .. controls (530,620) and (560,620) .. (575,645) .. controls (590,660) and (600,670) .. (610,690);
\draw[sig] (380,620) -- (380,690);
\draw[sig] (600,562) .. controls (660,520) and (785,525) .. (775,560) .. controls (765,590) and (700,600) .. (645,600);
\draw[sig] (670,595) -- (650,655);
\draw[sig] (680,650) .. controls (700,620) and (720,620) .. (730,650) .. controls (745,625) and (760,625) .. (770,650) .. controls (790,620) and (810,625) .. (825,650) .. controls (850,625) and (880,630) .. (890,650) .. controls (905,655) and (925,650) .. (945,648);
\fill[blue!65!black] (932,592) circle[radius=3];
\end{scope}
\end{tikzpicture}
\end{document}
